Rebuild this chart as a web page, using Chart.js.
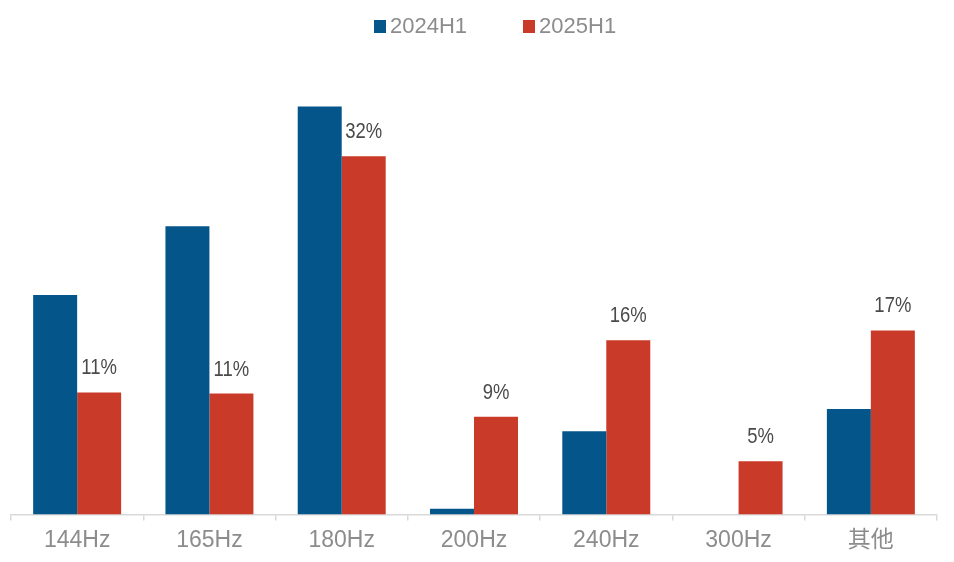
<!DOCTYPE html>
<html>
<head>
<meta charset="utf-8">
<script src="https://cdn.jsdelivr.net/npm/chart.js@4.4.1/dist/chart.umd.min.js"></script>
<style>
  html, body { margin: 0; padding: 0; background: #fff; }
  #wrap { position: relative; width: 954px; height: 562px; }
  #legend {
    position: absolute; top: 13px; left: 374px;
    display: flex; align-items: center;
    font-family: "Liberation Sans", Arial, sans-serif; font-size: 22px; color: #8c8c8c;
  }
  #legend .item { display: flex; align-items: center; margin-right: 56px; }
  #legend .box { width: 12px; height: 13px; margin-right: 4px; }
</style>
</head>
<body>
<div id="wrap">
  <canvas id="myChart" width="954" height="562"></canvas>
  <div id="legend"></div>
</div>
<script>
// 카테고리와 시리즈 값 (%)
let categories = ["144Hz", "165Hz", "180Hz", "200Hz", "240Hz", "300Hz", "其他"];
let seriesNames = ["2024H1", "2025H1"];
let data2024 = [19.8, 26.0, 36.8, 0.5, 7.5, 0, 9.5];
let data2025 = [11.0, 10.9, 32.3, 8.8, 15.7, 4.8, 16.6];
let colors = ["#04558a", "#ca3a28"];

// 2025H1 막대 위에 % 라벨 그리기 (좁은 글꼴 느낌으로 가로 축소)
const barLabels = {
    id: "barLabels",
    afterDatasetsDraw(chart) {
        let ctx = chart.ctx;
        let meta = chart.getDatasetMeta(1);
        meta.data.forEach((bar, i) => {
            ctx.save();
            ctx.translate(bar.x, bar.y - 18);
            ctx.scale(0.84, 1);
            ctx.font = '22px "Liberation Sans", sans-serif';
            ctx.fillStyle = "#4a4a4a";
            ctx.textAlign = "center";
            ctx.textBaseline = "alphabetic";
            ctx.fillText(Math.round(data2025[i]) + "%", 0, 0);
            ctx.restore();
        });
    }
};

let ctx = document.getElementById("myChart").getContext("2d");
let ChartInst = new Chart(ctx, {
    type: "bar",
    data: {
        labels: categories,
        datasets: [
            { label: seriesNames[0], data: data2024, backgroundColor: colors[0] },
            { label: seriesNames[1], data: data2025, backgroundColor: colors[1] }
        ]
    },
    options: {
        responsive: false,
        animation: false,
        layout: { padding: { top: 71, left: 11, right: 17, bottom: 2 } },
        datasets: { bar: { categoryPercentage: 0.665, barPercentage: 1.0 } },
        plugins: {
            legend: { display: false },
            tooltip: { enabled: false }
        },
        scales: {
            x: {
                grid: {
                    offset: true,
                    drawOnChartArea: false,
                    drawTicks: true,
                    tickLength: 6,
                    lineWidth: 1.5,
                    color: "#d9d9d9"
                },
                border: { display: true, color: "#d9d9d9", width: 1.5 },
                ticks: {
                    padding: 6,
                    color: "#8c8c8c",
                    font: { family: '"Liberation Sans", "Noto Sans CJK SC", sans-serif', size: 23 }
                }
            },
            y: {
                display: false,
                min: 0,
                max: 40
            }
        }
    },
    plugins: [barLabels]
});

// HTML 범례 만들기
let legendEl = document.getElementById("legend");
ChartInst.data.datasets.forEach(ds => {
    let item = document.createElement("div");
    item.className = "item";
    item.innerHTML = '<span class="box" style="background:' + ds.backgroundColor + '"></span><span>' + ds.label + '</span>';
    legendEl.appendChild(item);
});
</script>
</body>
</html>
